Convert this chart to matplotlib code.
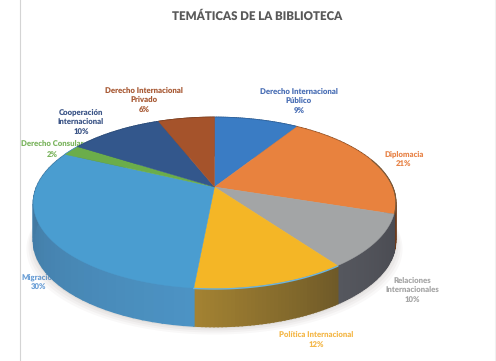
import numpy as np
import matplotlib
matplotlib.use("Agg")
import matplotlib.pyplot as plt

plt.rcParams['font.family'] = ['Lato', 'DejaVu Sans']
plt.rcParams['text.hinting'] = 'no_hinting'

title = "TEMÁTICAS DE LA BIBLIOTECA"
categories = ["Derecho Internacional\nPúblico", "Diplomacia", "Relaciones\nInternacionales",
              "Política Internacional", "Migración", "Derecho Consular",
              "Cooperación\nInternacional", "Derecho Internacional\nPrivado"]
values = [9.0, 21.0, 10.0, 11.51, 30.49, 2.0, 10.0, 6.0]

colors = ["#3a7cc4", "#e8823e", "#a3a5a6", "#f4b626", "#4a9dd0", "#6bad4a", "#33578c", "#a5532b"]
wall_left = ["#2a5a90", "#8a4a20", "#55575e", "#a38232", "#4c93c4", "#4c93c4", "#2a4a76", "#7a3e20"]
wall_right = ["#2a5a90", "#6a3a1c", "#4a4b52", "#6f5a28", "#3f7299", "#4c93c4", "#2a4a76", "#7a3e20"]
text_colors = ["#4a6fb5", "#e8854a", "#a6a6a6", "#f4b84a", "#6b9fd6", "#7cb560", "#3c5587", "#a85a35"]
label_pos = [(299, 101), (404, 159), (412, 290), (316, 340), (39, 282), (52, 150), (81, 122), (144, 100)]

# pie is drawn in pixels, tilted circle with a bit of perspective
cx, cy = 214.5, 203
rx, ry = 181, 85.5
apex_shift = 16
depth = 38
c = apex_shift / ry


def project(theta):
    u, v = np.sin(theta), np.cos(theta)
    d = 1 + c * v
    x = cx + rx * np.sqrt(1 - c * c) * u / d
    y = cy - (ry * v + apex_shift) / d
    return x, y


def hex_rgb(h):
    return np.array(matplotlib.colors.to_rgb(h))


fig = plt.figure(figsize=(4.96, 3.61), dpi=100)
ax = fig.add_axes([0, 0, 1, 1])
ax.set_xlim(0, 496)
ax.set_ylim(361, 0)
ax.axis('off')

ax.plot([19.5, 19.5], [0, 361], color="#d4d4d4", lw=0.8, zorder=1)
ax.plot([495, 495], [0, 361], color="#f0f0f0", lw=0.8, zorder=1)

ax.text(257, 16.5, title, ha='center', va='center', fontsize=8.3, fontweight='heavy', color="#595959")

for name, val, tc, (lx, ly) in zip(categories, values, text_colors, label_pos):
    ax.text(lx, ly, f"{name}\n{val:.0f}%", ha='center', va='center', fontsize=5.6,
            fontweight='heavy', color=tc, linespacing=1.42, zorder=2)

# soft shadow below the pie
t = np.linspace(0, 2 * np.pi, 300)
sx, sy = project(t)
for grow, al in zip([7, 5, 3, 1], [0.05, 0.06, 0.07, 0.09]):
    ax.fill(sx + (sx - cx) * grow / rx, sy + depth + 1 + grow, color="#8a7f78", alpha=al, lw=0, zorder=3)

edges = np.radians(np.cumsum([0] + values) * 3.6)

# walls first, top faces go over them
for i in range(len(values)):
    t = np.linspace(edges[i], edges[i + 1], 40)
    x, y = project(t)
    xs = np.linspace(0, 1, len(t) - 1)
    if t[0] > np.pi * 0.5 and t[0] < np.pi * 1.0:
        xs = xs[::-1]
    for j in range(len(t) - 1):
        col = hex_rgb(wall_left[i]) * (1 - xs[j]) + hex_rgb(wall_right[i]) * xs[j]
        ax.fill([x[j], x[j + 1], x[j + 1], x[j]], [y[j], y[j + 1], y[j + 1] + depth, y[j] + depth],
                facecolor=col, edgecolor=col, lw=1.2, zorder=4)

for i in range(len(values)):
    t = np.linspace(edges[i], edges[i + 1], 60)
    x, y = project(t)
    ax.fill(np.r_[cx, x], np.r_[cy - apex_shift, y], color=colors[i], lw=0.3, zorder=5)

# rim highlight along the front edge
t = np.linspace(edges[3], edges[4], 60)
x, y = project(t)
ax.plot(x, y + 0.5, color="#6cb4e0", lw=1.0, zorder=6)
t = np.linspace(np.radians(70), edges[2], 40)
x, y = project(t)
ax.plot(x + 0.5, y, color="#7a5a3a", lw=0.8, zorder=6)

fig.savefig("out.png", dpi=100)
